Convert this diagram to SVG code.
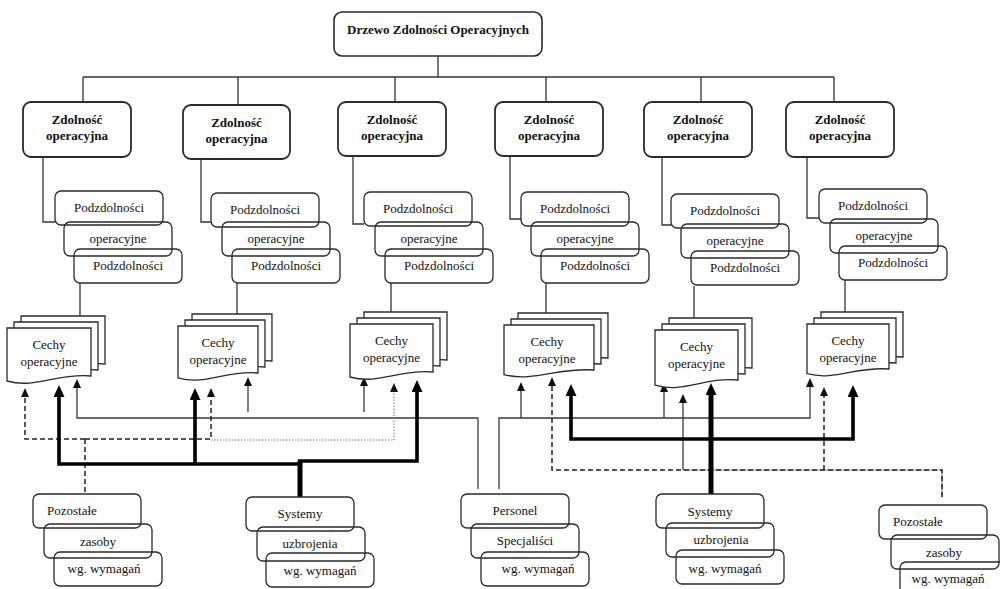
<svg xmlns="http://www.w3.org/2000/svg" xmlns:xlink="http://www.w3.org/1999/xlink" width="1000" height="589" viewBox="0 0 1000 589">
  <style>
    text { font-family: "Liberation Serif", "Times New Roman", serif; font-size: 13px; fill: #111; }
    .b { font-weight: bold; }
    .m { text-anchor: middle; }
    .top { fill: #fff; stroke: #2a2a2a; stroke-width: 1.6; }
    .cap { fill: #fff; stroke: #2a2a2a; stroke-width: 1.8; }
    .sub { fill: none; stroke: #2a2a2a; stroke-width: 1.3; }
    .doc { fill: #fff; stroke: #2a2a2a; stroke-width: 1.3; }
    .tree { fill: none; stroke: #333; stroke-width: 1.3; }
    .thin { fill: none; stroke: #3a3a3a; stroke-width: 1.3; }
    .ghost { fill: none; stroke: #888; stroke-width: 1.1; }
    .thick { fill: none; stroke: #000; stroke-width: 3.6; }
    .trunk { fill: none; stroke: #000; stroke-width: 5; }
    .dash { fill: none; stroke: #222; stroke-width: 1.5; stroke-dasharray: 5 3; }
    .dot { fill: none; stroke: #777; stroke-width: 1; stroke-dasharray: 1.5 1.5; }
  </style>
  <defs>
    <path id="doc" class="doc" vector-effect="non-scaling-stroke" d="M0,0 H84 V48 C50,45 29,61 0,53 Z"/>
    <marker id="ah" markerUnits="userSpaceOnUse" markerWidth="9" markerHeight="8" refX="0" refY="4" orient="auto">
      <path d="M0,0 L9,4 L0,8 Z" fill="#111"/>
    </marker>
    <marker id="ahT" markerUnits="userSpaceOnUse" markerWidth="12" markerHeight="11" refX="0" refY="5.5" orient="auto">
      <path d="M0,0 L12,5.5 L0,11 Z" fill="#000"/>
    </marker>
  </defs>

  <!-- connectors -->
  <g id="connectors">
    <!-- tree -->
    <path class="tree" d="M438,56 V77 M83,77 H834 M83,77 V102 M238,77 V105 M395,77 V102 M546,77 V102 M701,77 V102 M834,77 V102"/>
    <path class="tree" d="M43,157 V222 H55 M201,159 V222 H211 M353,156 V224 H364 M510,156 V219 H521 M662,157 V225 H671 M807,157 V218 H819"/>
    <path class="tree" d="M80,283 V316 M237,283 V314 M391,283 V312 M546,283 V313 M694,286 V318 M845,280 V312"/>

    <!-- Personel links -->
    <path class="thin" marker-end="url(#ah)" d="M478,489 V418 H77 V388"/>
    <path class="thin" marker-end="url(#ah)" d="M499,489 V418 H810 V387"/>
    <path class="thin" marker-end="url(#ah)" d="M521,418 V391"/>
    <path class="thin" marker-end="url(#ah)" d="M664,418 V392"/>
    <path class="thin" marker-end="url(#ah)" d="M248,412 V386"/>
    <path class="thin" marker-end="url(#ah)" d="M364,412 V386"/>

    <!-- Pozostałe (left) links -->
    <path class="dash" d="M85,492 V439"/>
    <path class="dash" marker-end="url(#ah)" d="M85,439 H25 V397"/>
    <path class="dash" marker-end="url(#ah)" d="M85,439 H211 V397"/>
    <path class="dot" marker-end="url(#ah)" d="M211,440 H394 V392"/>

    <!-- Pozostałe (right) links -->
    <path class="ghost" d="M683,470 H942 V497"/>
    <path class="thin" marker-end="url(#ah)" d="M683,470 V403"/>
    <path class="dash" marker-end="url(#ah)" d="M942,497 V470 H552 V386"/>
    <path class="dash" marker-end="url(#ah)" d="M824,470 V396"/>

    <!-- Systemy (left) links -->
    <path class="thick" marker-end="url(#ahT)" d="M300,464 H59 V397"/>
    <path class="thick" marker-end="url(#ahT)" d="M195,464 V400"/>
    <path class="thick" marker-end="url(#ahT)" d="M298,461 H417 V392"/>
    <path class="trunk" d="M300,497 V461"/>

    <!-- Systemy (right) links -->
    <path class="trunk" marker-end="url(#ahT)" d="M711,494 V395"/>
    <path class="thick" marker-end="url(#ahT)" d="M711,439 H571 V396"/>
    <path class="thick" marker-end="url(#ahT)" d="M711,439 H853 V397"/>
  </g>

  <!-- root -->
  <g id="root">
    <rect class="top" x="334" y="12" width="208" height="44" rx="8"/>
    <text class="b m" x="438" y="34">Drzewo Zdolności Operacyjnych</text>
  </g>

  <!-- capabilities -->
  <g id="cap-1"><rect class="cap" x="23" y="102" width="108" height="55" rx="8"/><text class="b m" x="77" y="124">Zdolność</text><text class="b m" x="77" y="140">operacyjna</text></g>
  <g id="cap-2"><rect class="cap" x="183" y="105" width="107" height="54" rx="8"/><text class="b m" x="236.5" y="127">Zdolność</text><text class="b m" x="236.5" y="143">operacyjna</text></g>
  <g id="cap-3"><rect class="cap" x="338" y="102" width="108" height="54" rx="8"/><text class="b m" x="392" y="124">Zdolność</text><text class="b m" x="392" y="140">operacyjna</text></g>
  <g id="cap-4"><rect class="cap" x="495" y="102" width="108" height="54" rx="8"/><text class="b m" x="549" y="124">Zdolność</text><text class="b m" x="549" y="140">operacyjna</text></g>
  <g id="cap-5"><rect class="cap" x="644" y="102" width="108" height="55" rx="8"/><text class="b m" x="698" y="124">Zdolność</text><text class="b m" x="698" y="140">operacyjna</text></g>
  <g id="cap-6"><rect class="cap" x="786" y="102" width="108" height="55" rx="8"/><text class="b m" x="840" y="124">Zdolność</text><text class="b m" x="840" y="140">operacyjna</text></g>

  <!-- sub-capabilities -->
  <g id="sub-1">
    <rect class="sub" x="55" y="191" width="108" height="34" rx="6"/><text class="m" x="109" y="212">Podzdolności</text>
    <rect class="sub" x="64" y="222" width="108" height="34" rx="6"/><text class="m" x="118" y="243">operacyjne</text>
    <rect class="sub" x="74" y="249" width="108" height="34" rx="6"/><text class="m" x="128" y="270">Podzdolności</text>
  </g>
  <g id="sub-2">
    <rect class="sub" x="211" y="193" width="108" height="34" rx="6"/><text class="m" x="265" y="214">Podzdolności</text>
    <rect class="sub" x="222" y="222" width="108" height="34" rx="6"/><text class="m" x="276" y="243">operacyjne</text>
    <rect class="sub" x="232" y="249" width="108" height="34" rx="6"/><text class="m" x="286" y="270">Podzdolności</text>
  </g>
  <g id="sub-3">
    <rect class="sub" x="364" y="192" width="108" height="34" rx="6"/><text class="m" x="418" y="213">Podzdolności</text>
    <rect class="sub" x="375" y="222" width="108" height="34" rx="6"/><text class="m" x="429" y="243">operacyjne</text>
    <rect class="sub" x="385" y="249" width="108" height="34" rx="6"/><text class="m" x="439" y="270">Podzdolności</text>
  </g>
  <g id="sub-4">
    <rect class="sub" x="521" y="192" width="108" height="34" rx="6"/><text class="m" x="575" y="213">Podzdolności</text>
    <rect class="sub" x="531" y="222" width="108" height="34" rx="6"/><text class="m" x="585" y="243">operacyjne</text>
    <rect class="sub" x="541" y="249" width="108" height="34" rx="6"/><text class="m" x="595" y="270">Podzdolności</text>
  </g>
  <g id="sub-5">
    <rect class="sub" x="671" y="194" width="108" height="34" rx="6"/><text class="m" x="725" y="215">Podzdolności</text>
    <rect class="sub" x="681" y="224" width="108" height="34" rx="6"/><text class="m" x="735" y="245">operacyjne</text>
    <rect class="sub" x="691" y="251" width="108" height="34" rx="6"/><text class="m" x="745" y="272">Podzdolności</text>
  </g>
  <g id="sub-6">
    <rect class="sub" x="819" y="189" width="108" height="34" rx="6"/><text class="m" x="873" y="210">Podzdolności</text>
    <rect class="sub" x="830" y="219" width="108" height="34" rx="6"/><text class="m" x="884" y="240">operacyjne</text>
    <rect class="sub" x="839" y="246" width="108" height="34" rx="6"/><text class="m" x="893" y="267">Podzdolności</text>
  </g>

  <!-- feature document stacks -->
  <g id="feat-1">
    <use href="#doc" transform="translate(21,316)"/>
    <use href="#doc" transform="translate(14,322)"/>
    <use href="#doc" transform="translate(7,328)"/>
    <text class="m" x="49" y="349">Cechy</text><text class="m" x="49" y="366">operacyjne</text>
  </g>
  <g id="feat-2">
    <use href="#doc" transform="translate(192,314) scale(0.952,0.979)"/>
    <use href="#doc" transform="translate(185,320) scale(0.952,0.979)"/>
    <use href="#doc" transform="translate(178,326) scale(0.952,0.979)"/>
    <text class="m" x="218" y="347">Cechy</text><text class="m" x="218" y="364">operacyjne</text>
  </g>
  <g id="feat-3">
    <use href="#doc" transform="translate(364,312) scale(0.988,1)"/>
    <use href="#doc" transform="translate(357,318) scale(0.988,1)"/>
    <use href="#doc" transform="translate(350,324) scale(0.988,1)"/>
    <text class="m" x="391.5" y="345">Cechy</text><text class="m" x="391.5" y="362">operacyjne</text>
  </g>
  <g id="feat-4">
    <use href="#doc" transform="translate(518,313) scale(1.071,0.9375)"/>
    <use href="#doc" transform="translate(511,319) scale(1.071,0.9375)"/>
    <use href="#doc" transform="translate(504,325) scale(1.071,0.9375)"/>
    <text class="m" x="547" y="346">Cechy</text><text class="m" x="547" y="363">operacyjne</text>
  </g>
  <g id="feat-5">
    <use href="#doc" transform="translate(669,318) scale(0.988,1.042)"/>
    <use href="#doc" transform="translate(662,324) scale(0.988,1.042)"/>
    <use href="#doc" transform="translate(655,330) scale(0.988,1.042)"/>
    <text class="m" x="696.5" y="351">Cechy</text><text class="m" x="696.5" y="368">operacyjne</text>
  </g>
  <g id="feat-6">
    <use href="#doc" transform="translate(821,312) scale(0.976,0.9375)"/>
    <use href="#doc" transform="translate(814,318) scale(0.976,0.9375)"/>
    <use href="#doc" transform="translate(807,324) scale(0.976,0.9375)"/>
    <text class="m" x="848" y="345">Cechy</text><text class="m" x="848" y="362">operacyjne</text>
  </g>

  <!-- resources -->
  <g id="res-other-1">
    <rect class="sub" x="33" y="494" width="108" height="34" rx="6"/><text x="47" y="515">Pozostałe</text>
    <rect class="sub" x="44" y="524" width="108" height="34" rx="6"/><text class="m" x="98" y="546">zasoby</text>
    <rect class="sub" x="54" y="552" width="108" height="34" rx="6"/><text class="m" x="104" y="573">wg. wymagań</text>
  </g>
  <g id="res-weapons-1">
    <rect class="sub" x="246" y="497" width="108" height="34" rx="6"/><text class="m" x="300" y="518">Systemy</text>
    <rect class="sub" x="257" y="527" width="108" height="34" rx="6"/><text class="m" x="310" y="548">uzbrojenia</text>
    <rect class="sub" x="266" y="553" width="108" height="34" rx="6"/><text class="m" x="320" y="575">wg. wymagań</text>
  </g>
  <g id="res-personnel">
    <rect class="sub" x="461" y="494" width="108" height="34" rx="6"/><text class="m" x="515" y="515">Personel</text>
    <rect class="sub" x="471" y="524" width="108" height="34" rx="6"/><text class="m" x="525" y="545">Specjaliści</text>
    <rect class="sub" x="481" y="552" width="108" height="34" rx="6"/><text class="m" x="538" y="573">wg. wymagań</text>
  </g>
  <g id="res-weapons-2">
    <rect class="sub" x="656" y="494" width="108" height="34" rx="6"/><text class="m" x="710" y="516">Systemy</text>
    <rect class="sub" x="666" y="523" width="108" height="34" rx="6"/><text class="m" x="721" y="544">uzbrojenia</text>
    <rect class="sub" x="676" y="550" width="108" height="34" rx="6"/><text class="m" x="725" y="573">wg. wymagań</text>
  </g>
  <g id="res-other-2">
    <rect class="sub" x="879" y="505" width="108" height="34" rx="6"/><text x="893" y="526">Pozostałe</text>
    <rect class="sub" x="891" y="535" width="108" height="34" rx="6"/><text class="m" x="944" y="557">zasoby</text>
    <rect class="sub" x="900" y="562" width="108" height="34" rx="6"/><text class="m" x="948" y="583">wg. wymagań</text>
  </g>
</svg>
